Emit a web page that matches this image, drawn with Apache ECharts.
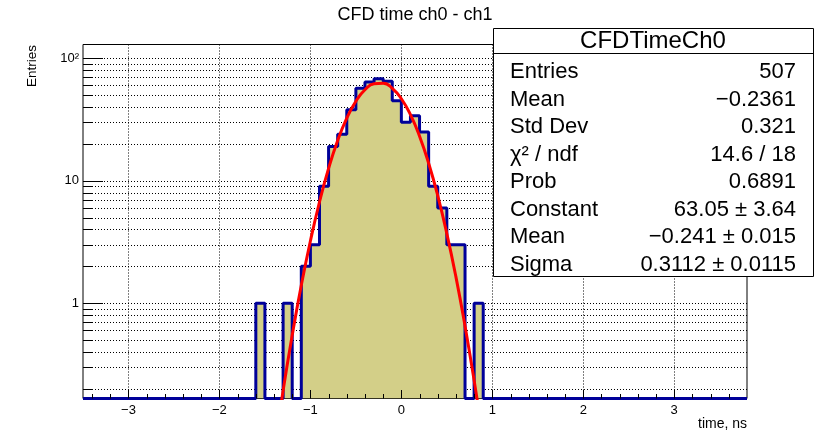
<!DOCTYPE html>
<html>
<head>
<meta charset="UTF-8">
<title>CFD time ch0 - ch1</title>
<script src="https://cdn.jsdelivr.net/npm/echarts@6/dist/echarts.min.js"></script>
<style>
html, body { margin: 0; padding: 0; background: #fff; }
#chart { width: 830px; height: 444px; }
</style>
</head>
<body>
<div id="chart"></div>
<script>
// histogram, 73 bins of 0.1 ns from -3.5 to 3.8
var binLow = -3.5;
var binWidth = 0.1;
var counts = [
  0,0,0,0,0,0,0,0,0,0, 0,0,0,0,0,0,0,0,0,1,   // -3.5 .. -1.6
  0,0,1,0,2,3,9,19,24,38,                     // -1.5 .. -0.6
  57,64,68,65,45,30,34,25,9,6,                // -0.5 .. 0.4
  3,3,0,1,0,0,0,0,0,0,                        //  0.5 .. 1.4
  0,0,0,0,0,0,0,0,0,0, 0,0,0,0,0,0,0,0,0,0,   //  1.5 .. 3.4
  0,0,0                                       //  3.5 .. 3.7
];

// gaus fit curve
var fitX = [-1.4,-1.3,-1.2,-1.1,-1.0,-0.9,-0.8,-0.7,-0.6,-0.5,-0.4,-0.3,-0.2,-0.1,0,0.1,0.2,0.3,0.4,0.5,0.6,0.7,0.8,0.9];
var fitY = [0.061,0.193,0.546,1.40,3.22,6.70,12.6,21.3,32.4,44.6,55.3,61.9,62.5,56.9,46.7,34.6,23.1,13.9,7.56,3.70,1.64,0.652,0.234,0.076];

// axes
var xMin = -3.5, xMax = 3.8;
var yMin = 0.1664, yMax = 129.6;
var xMajorTicks = [-3,-2,-1,0,1,2,3];
var xMinorTicks = [-3.4,-3.2,-2.8,-2.6,-2.4,-2.2,-1.8,-1.6,-1.4,-1.2,-0.8,-0.6,-0.4,-0.2,
                   0.2,0.4,0.6,0.8,1.2,1.4,1.6,1.8,2.2,2.4,2.6,2.8,3.2,3.4,3.6];
var yMajorTicks = [1,10,100];
var yMinorTicks = [0.2,0.3,0.4,0.5,0.6,0.7,0.8,0.9,2,3,4,5,6,7,8,9,20,30,40,50,60,70,80,90];
var yLabelText = ['1','10','10²'];

// stats box
var statTitle = 'CFDTimeCh0';
var statLabels = ['Entries','Mean','Std Dev','χ² / ndf','Prob','Constant','Mean','Sigma'];
var statValues = ['507','−0.2361','0.321','14.6 / 18','0.6891','63.05 ± 3.64','−0.241 ± 0.015','0.3112 ± 0.0115'];

var FONT = '"Liberation Sans", Arial, Helvetica, sans-serif';
var fillColor = '#d3cf88';
var lineColor = '#000099';

var barData = [], outline = [];
for (var i = 0; i < counts.length; i++) {
  var lo = binLow + i * binWidth;
  barData.push([lo, lo + binWidth, counts[i]]);
  outline.push([lo, counts[i] > 0 ? counts[i] : yMin]);
}
outline.push([binLow + counts.length * binWidth, counts[counts.length - 1] > 0 ? counts[counts.length - 1] : yMin]);

var fitData = fitX.map(function (x, k) { return [x, fitY[k]]; });

var gridData = [], tickData = [];
xMajorTicks.forEach(function (v) { gridData.push([v, yMin, 0]); tickData.push([v, yMin, 0]); });
xMinorTicks.forEach(function (v) { tickData.push([v, yMin, 1]); });
yMajorTicks.forEach(function (v) { gridData.push([xMin, v, 1]); tickData.push([xMin, v, 2]); });
yMinorTicks.forEach(function (v) { gridData.push([xMin, v, 1]); tickData.push([xMin, v, 3]); });

function gridItem(params, api) {
  var cs = params.coordSys;
  var p = api.coord([api.value(0), api.value(1)]);
  var shape;
  if (api.value(2) === 0) {
    var x = Math.round(p[0]) + 0.5;
    shape = { x1: x, y1: cs.y, x2: x, y2: cs.y + cs.height };
  } else {
    var y = Math.round(p[1]) + 0.5;
    shape = { x1: cs.x, y1: y, x2: cs.x + cs.width, y2: y };
  }
  return { type: 'line', shape: shape, style: { stroke: '#000', lineWidth: 1, lineDash: [1, 2] } };
}

function tickItem(params, api) {
  var kind = api.value(2);
  var p = api.coord([api.value(0), api.value(1)]);
  var shape;
  if (kind < 2) {
    var x = Math.round(p[0]) + 0.5;
    shape = { x1: x, y1: p[1], x2: x, y2: p[1] - (kind === 0 ? 8.5 : 4.5) };
  } else {
    var y = Math.round(p[1]) + 0.5;
    shape = { x1: p[0], y1: y, x2: p[0] + (kind === 2 ? 20 : 10), y2: y };
  }
  return { type: 'line', shape: shape, style: { stroke: '#000', lineWidth: 1 } };
}

function barItem(params, api) {
  var c = api.value(2);
  if (!(c > 0)) return;
  var a = api.coord([api.value(0), c]);
  var b = api.coord([api.value(1), yMin]);
  // snap bin edges to whole pixels so neighbouring bins leave no seam
  var x0 = Math.round(a[0]), x1 = Math.round(b[0]);
  return { type: 'rect', shape: { x: x0, y: a[1], width: x1 - x0, height: b[1] - a[1] },
           style: { fill: fillColor } };
}

var graphics = [
  { type: 'text', x: 32, y: 45, rotation: Math.PI / 2, z: 100,
    style: { text: 'Entries', fontSize: 13.5, fontFamily: FONT, fill: '#000', align: 'right', verticalAlign: 'middle' } },
  { type: 'text', x: 747, y: 424, z: 100,
    style: { text: 'time, ns', fontSize: 14, fontFamily: FONT, fill: '#000', align: 'right', verticalAlign: 'middle' } },
  { type: 'rect', z: 100, shape: { x: 493.5, y: 28.5, width: 320, height: 248 },
    style: { fill: '#fff', stroke: '#000', lineWidth: 1 } },
  { type: 'line', z: 101, shape: { x1: 493.5, y1: 53.5, x2: 813.5, y2: 53.5 },
    style: { stroke: '#000', lineWidth: 1 } },
  { type: 'text', x: 653, y: 41.5, z: 101,
    style: { text: statTitle, fontSize: 24, fontFamily: FONT, fill: '#000', align: 'center', verticalAlign: 'middle' } }
];
statLabels.forEach(function (t, k) {
  var y = 72 + k * 27.5;
  graphics.push({ type: 'text', x: 510, y: y, z: 101,
    style: { text: t, fontSize: 22, fontFamily: FONT, fill: '#000', align: 'left', verticalAlign: 'middle' } });
  graphics.push({ type: 'text', x: 796, y: y, z: 101,
    style: { text: statValues[k], fontSize: 22, fontFamily: FONT, fill: '#000', align: 'right', verticalAlign: 'middle' } });
});

var chart = echarts.init(document.getElementById('chart'));
chart.setOption({
  animation: false,
  backgroundColor: '#fff',
  title: {
    text: 'CFD time ch0 - ch1', left: 'center', top: 1,
    textStyle: { fontSize: 18, fontWeight: 'normal', fontFamily: FONT, color: '#000' }
  },
  grid: {
    left: 83, right: 83, top: 44.5, bottom: 45.5,
    show: true, borderColor: '#000', borderWidth: 1, backgroundColor: 'transparent'
  },
  xAxis: {
    type: 'value', min: xMin, max: xMax, splitNumber: 7,
    axisLine: { show: false }, axisTick: { show: false }, splitLine: { show: false },
    axisLabel: {
      showMinLabel: false, showMaxLabel: false, margin: 5,
      fontSize: 13, fontFamily: FONT, color: '#000',
      formatter: function (v) { return v < 0 ? '−' + Math.abs(v) : String(v); }
    }
  },
  yAxis: {
    type: 'log', logBase: 10, min: yMin, max: yMax,
    axisLine: { show: false }, axisTick: { show: false }, splitLine: { show: false },
    axisLabel: {
      showMinLabel: false, showMaxLabel: false, margin: 4,
      fontSize: 13, fontFamily: FONT, color: '#000',
      formatter: function (v) {
        var e = Math.log10(v), r = Math.round(e);
        if (Math.abs(e - r) > 1e-6 || r < 0 || r > 2) return '';
        return yLabelText[r];
      }
    }
  },
  series: [
    { type: 'custom', name: 'grid', z: 1, silent: true, data: gridData,
      encode: { x: 0, y: 1 }, renderItem: gridItem },
    { type: 'custom', name: 'fill', z: 2, silent: true, data: barData, clip: true,
      encode: { x: [0, 1], y: 2 }, renderItem: barItem },
    { type: 'line', name: 'CFDTimeCh0', z: 3, data: outline, step: 'end', symbol: 'none', clip: true,
      lineStyle: { color: lineColor, width: 3 } },
    { type: 'line', name: 'gaus', z: 4, data: fitData, smooth: true, symbol: 'none', clip: true,
      lineStyle: { color: '#ff0000', width: 3 } },
    { type: 'custom', name: 'ticks', z: 5, silent: true, data: tickData,
      encode: { x: 0, y: 1 }, renderItem: tickItem }
  ],
  graphic: graphics
});
</script>
</body>
</html>
